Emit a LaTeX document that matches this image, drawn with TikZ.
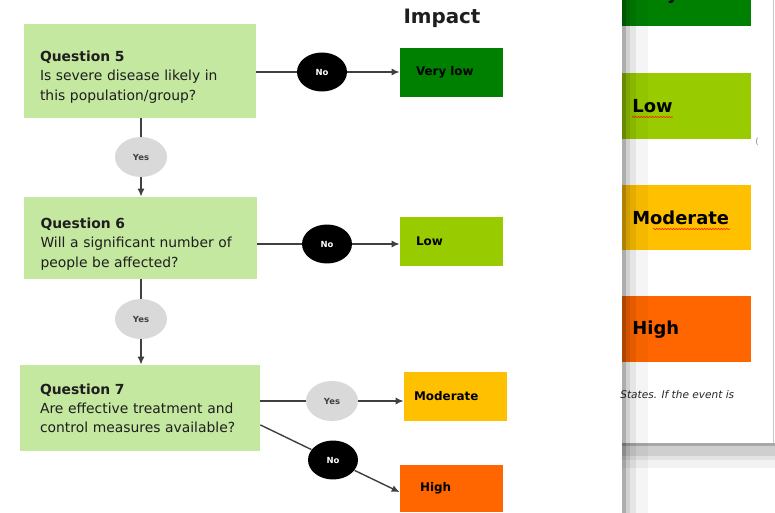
\documentclass[tikz,border=0pt]{standalone}
\usepackage{fontspec}
\setmainfont{DejaVu Sans}
\usepackage{tikz}
\usetikzlibrary{arrows.meta, shapes.geometric, decorations.pathmorphing}
\definecolor{QuestionGreen}{HTML}{C5E8A0}
\definecolor{ImpVeryLow}{HTML}{008000}
\definecolor{ImpLow}{HTML}{99CC00}
\definecolor{ImpModerate}{HTML}{FFC000}
\definecolor{ImpHigh}{HTML}{FF6600}
\definecolor{YesGrey}{HTML}{D9D9D9}
\definecolor{LineGrey}{HTML}{404040}
\definecolor{TextDark}{HTML}{1E1E1E}

\tikzset{
  question/.style={rectangle, fill=QuestionGreen, inner xsep=0pt, inner ysep=2pt,
    text width=4.0cm, align=left, text=TextDark, font=\fontsize{7.9}{10.9}\selectfont},
  impactbox/.style={rectangle, minimum width=2.06cm, minimum height=0.98cm,
    inner xsep=0pt, align=left, text=black, font=\fontsize{6.8}{8}\selectfont\bfseries},
  yesnode/.style={ellipse, fill=YesGrey, minimum width=1.04cm, minimum height=0.8cm,
    inner sep=0pt, text=TextDark!85, font=\fontsize{4.8}{5}\selectfont\bfseries},
  nonode/.style={ellipse, fill=black, minimum width=1.0cm, minimum height=0.78cm,
    inner sep=0pt, text=white, font=\fontsize{4.8}{5}\selectfont\bfseries},
  flowline/.style={draw=LineGrey, line width=0.8pt},
  flowarrow/.style={flowline, -{Latex[length=1.6mm,width=1.4mm]}},
  paneltext/.style={anchor=west, inner sep=0pt, text=black, font=\fontsize{10.2}{12}\selectfont\bfseries},
  squiggle/.style={draw=red!75!orange, line width=0.35pt, decorate,
    decoration={snake, amplitude=0.35pt, segment length=1.6pt}}
}

\begin{document}
\begin{tikzpicture}[x=0.02cm, y=-0.02cm]
\useasboundingbox (0,0) rectangle (775,513);
\begin{scope}
\clip (0,0) rectangle (775,513);
% Page seen behind the chart
\fill[ImpVeryLow] (622,-40) rectangle (751,26);
\fill[ImpLow] (622,73) rectangle (751,139);
\fill[ImpModerate] (622,185) rectangle (751,250);
\fill[ImpHigh] (622,296) rectangle (751,362);
\node[paneltext] (pverylow) at (633,-5) {Very low};
\node[paneltext] (plow) at (632,106) {Low};
\node[paneltext] (pmoderate) at (632,218) {Moderate};
\node[paneltext] (phigh) at (632,330) {High};
\draw[squiggle] (632,117) -- (673,117);
\draw[squiggle] (653,229) -- (730,229);
\node[anchor=west, inner sep=0pt, text=black!85, font=\fontsize{6}{7}\selectfont\itshape]
  (pstates) at (620,395) {States. If the event is};
\node[text=black!45, inner sep=0pt, font=\fontsize{5}{6}\selectfont] (pmark) at (757,142) {(};
\draw[black!22, line width=0.5pt] (773.5,0) -- (773.5,443);
% Page edge shadows
\fill[black, opacity=0.32] (622,0) rectangle (626,513);
\fill[black, opacity=0.18] (626,0) rectangle (630,513);
\fill[black, opacity=0.10] (630,0) rectangle (636,513);
\fill[black, opacity=0.04] (636,0) rectangle (648,513);
\fill[black, opacity=0.34] (622,443) rectangle (775,446);
\fill[black, opacity=0.19] (622,446) rectangle (775,456);
\fill[black, opacity=0.11] (622,456) rectangle (775,460);
\fill[black, opacity=0.05] (622,460) rectangle (775,468);
\end{scope}

% Heading
\node[font=\fontsize{11.3}{13}\selectfont\bfseries, text=TextDark] (impact) at (442,18) {Impact};

% Questions
\node[question, minimum width=4.64cm, minimum height=1.88cm] (q5) at (140,71)
  {\rule{0pt}{13pt}\textbf{Question 5}\\Is severe disease likely in\\this population/group?};
\node[question, minimum width=4.66cm, minimum height=1.64cm] (q6) at (140.5,238)
  {\rule{0pt}{13pt}\textbf{Question 6}\\Will a significant number of\\people be affected?};
\node[question, minimum width=4.8cm, minimum height=1.72cm] (q7) at (140,408)
  {\textbf{Question 7}\\Are effective treatment and\\control measures available?};

% Impact boxes
\node[impactbox, fill=ImpVeryLow, text width=1.42cm] (verylow) at (451.5,72.5) {Very low};
\node[impactbox, fill=ImpLow, text width=1.42cm] (low) at (451.5,241.5) {Low};
\node[impactbox, fill=ImpModerate, text width=1.66cm] (moderate) at (455.5,396.5) {Moderate};
\node[impactbox, fill=ImpHigh, minimum height=0.94cm, text width=1.26cm] (high) at (451.5,488.5) {High};

% Answers
\node[nonode] (no5) at (322,72) {No};
\node[yesnode] (yes5) at (141,157) {Yes};
\node[nonode] (no6) at (327,244) {No};
\node[yesnode] (yes6) at (141,319) {Yes};
\node[yesnode] (yes7) at (332,401) {Yes};
\node[nonode] (no7) at (333,460) {No};

% Connectors
\draw[flowline] (q5.east |- no5) -- (no5);
\draw[flowarrow] (no5) -- (verylow.west |- no5);
\draw[flowline] (q5.south -| yes5) -- (yes5);
\draw[flowarrow] (yes5) -- (q6.north -| yes5);
\draw[flowline] (q6.east |- no6) -- (no6);
\draw[flowarrow] (no6) -- (low.west |- no6);
\draw[flowline] (q6.south -| yes6) -- (yes6);
\draw[flowarrow] (yes6) -- (q7.north -| yes6);
\draw[flowline] (q7.east |- yes7) -- (yes7);
\draw[flowarrow] (yes7) -- (moderate.west |- yes7);
\draw[flowline] (q7.-8) -- (no7);
\draw[flowarrow] (no7) -- (high.184);
\end{tikzpicture}
\end{document}
